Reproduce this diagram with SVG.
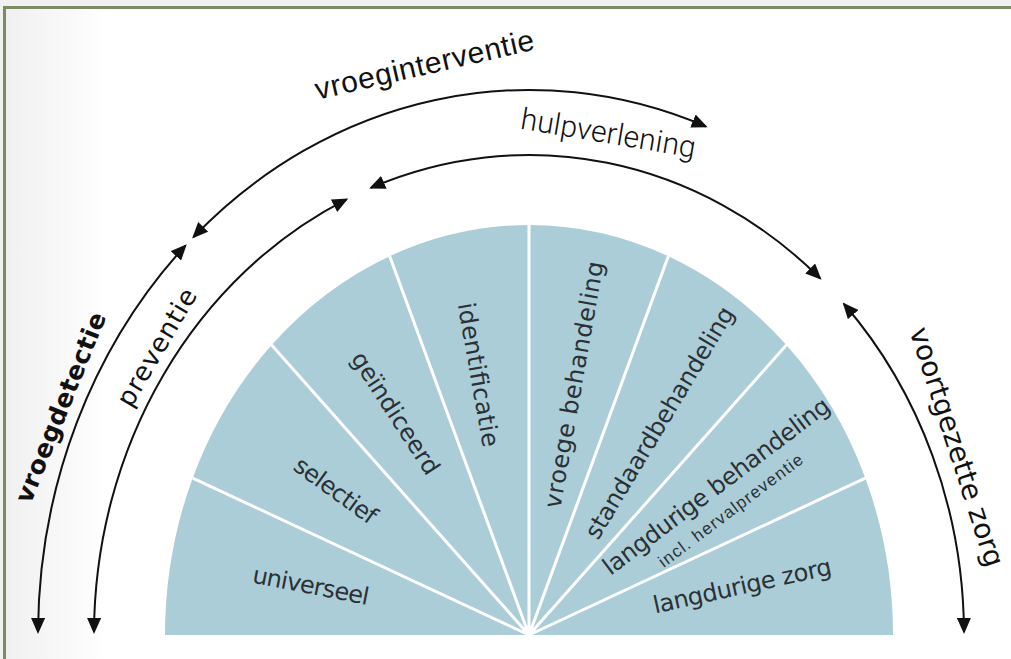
<svg xmlns="http://www.w3.org/2000/svg" width="1011" height="659" viewBox="0 0 1011 659">
  <defs>
    <linearGradient id="bgL" gradientUnits="userSpaceOnUse" x1="5" y1="0" x2="110" y2="0">
      <stop offset="0" stop-color="#f0f0f0"/>
      <stop offset="1" stop-color="#ffffff"/>
    </linearGradient>
    <marker id="ah" viewBox="0 0 16 14" refX="14" refY="7" markerWidth="16" markerHeight="14" markerUnits="userSpaceOnUse" orient="auto-start-reverse">
      <path d="M0,0 L16,7 L0,14 Z" fill="#111"/>
    </marker>
  </defs>
  <style>
    .sec{fill:#abcdd8}
    .div{stroke:#ffffff;stroke-width:3;fill:none}
    .lbl{font-family:"DejaVu Sans","Liberation Sans",sans-serif;font-size:24px;fill:#2b3034;text-anchor:middle}
    .sub{font-family:"Liberation Sans",Arial,sans-serif;font-size:17px;fill:#2b3034;text-anchor:middle}
    .arc{fill:none;stroke:#111;stroke-width:2;marker-start:url(#ah);marker-end:url(#ah)}
    .hel{font-family:"Liberation Sans",Arial,sans-serif;font-size:30px;text-anchor:middle}
    .light{font-family:Roboto,"Liberation Sans",sans-serif;font-weight:300;font-size:30px;text-anchor:middle}
    .cg{font-family:"DejaVu Sans","Liberation Sans",sans-serif;fill:#111;text-anchor:middle}
  </style>

  <!-- background and frame -->
  <rect width="1011" height="659" fill="#f1f1f1"/>
  <rect x="4" y="7" width="1007" height="652" fill="url(#bgL)"/>
  <path d="M4.5,659 V7.5 H1011" stroke="#7b8b63" stroke-width="3" fill="none"/>

  <!-- fan sectors -->
  <g id="sectors">
    <g id="s-universeel">
      <path class="sec" d="M529,635 L165,635 A364,410 0 0 1 192.71,478.10 Z"/>
      <text class="lbl" transform="translate(311,585) rotate(11)" y="8.8" textLength="118" lengthAdjust="spacing">universeel</text>
    </g>
    <g id="s-selectief">
      <path class="sec" d="M529,635 L192.71,478.10 A364,410 0 0 1 271.61,345.09 Z"/>
      <text class="lbl" transform="translate(336,490) rotate(36)" y="8.8" textLength="96" lengthAdjust="spacing">selectief</text>
    </g>
    <g id="s-geindiceerd">
      <path class="sec" d="M529,635 L271.61,345.09 A364,410 0 0 1 389.70,256.21 Z"/>
      <text class="lbl" transform="translate(394,414) rotate(57)" y="6.5" textLength="141" lengthAdjust="spacing">geïndiceerd</text>
    </g>
    <g id="s-identificatie">
      <path class="sec" d="M529,635 L389.70,256.21 A364,410 0 0 1 529,225 Z"/>
      <text class="lbl" transform="translate(479,374.5) rotate(80)" y="8.8" textLength="146" lengthAdjust="spacing">identificatie</text>
    </g>
    <g id="s-vroege-behandeling">
      <path class="sec" d="M529,635 L529,225 A364,410 0 0 1 668.30,256.21 Z"/>
      <text class="lbl" transform="translate(575.5,385) rotate(-80)" y="6.5" textLength="250" lengthAdjust="spacing">vroege behandeling</text>
    </g>
    <g id="s-standaardbehandeling">
      <path class="sec" d="M529,635 L668.30,256.21 A364,410 0 0 1 786.39,345.09 Z"/>
      <text class="lbl" transform="translate(661,423.5) rotate(-59)" y="6.5" textLength="266" lengthAdjust="spacing">standaardbehandeling</text>
    </g>
    <g id="s-langdurige-behandeling">
      <path class="sec" d="M529,635 L786.39,345.09 A364,410 0 0 1 865.29,478.10 Z"/>
      <text class="lbl" transform="translate(717,487) rotate(-37)" y="7" textLength="277" lengthAdjust="spacing">langdurige behandeling</text>
      <text class="sub" transform="translate(731,511) rotate(-37)" y="5" textLength="176" lengthAdjust="spacing">incl. hervalpreventie</text>
    </g>
    <g id="s-langdurige-zorg">
      <path class="sec" d="M529,635 L865.29,478.10 A364,410 0 0 1 893,635 Z"/>
      <text class="lbl" transform="translate(742.5,587) rotate(-12.5)" y="7" textLength="182" lengthAdjust="spacing">langdurige zorg</text>
    </g>
  </g>
  <g id="dividers">
    <path class="div" d="M529,635 L192.71,478.10 M529,635 L271.61,345.09 M529,635 L389.70,256.21 M529,635 L529,225 M529,635 L668.30,256.21 M529,635 L786.39,345.09 M529,635 L865.29,478.10"/>
  </g>

  <!-- connectors -->
  <g id="connectors">
    <path id="c-vroegdetectie" class="arc" d="M38,632 A491,545 0 0 1 185.4,245.6"/>
    <path id="c-vroeginterventie" class="arc" d="M193.5,237 A491,545 0 0 1 705.8,126.5"/>
    <path id="c-preventie" class="arc" d="M94,632 A435,480 0 0 1 346.5,199.3"/>
    <path id="c-hulpverlening" class="arc" d="M371,187.8 A435,480 0 0 1 820.1,278.3"/>
    <path id="c-voortgezette-zorg" class="arc" d="M844,304 A435,480 0 0 1 964,632"/>
  </g>

  <!-- arc labels -->
  <g id="labels">
    <g id="l-vroegdetectie">
      <text class="cg" font-size="25" font-weight="bold" transform="translate(62,408) rotate(-68)" y="7" textLength="203" lengthAdjust="spacing">vroegdetectie</text>
    </g>
    <g id="l-preventie">
      <text class="cg" font-size="26" fill="#222" transform="translate(158,348) rotate(-59.6)" y="7.5" textLength="132" lengthAdjust="spacing">preventie</text>
    </g>
    <g id="l-voortgezette-zorg">
      <text class="cg" font-size="28" transform="translate(955,447.5) rotate(72)" y="7.5" textLength="250" lengthAdjust="spacing">voortgezette zorg</text>
    </g>
    <g id="l-vroeginterventie">
      <text class="hel" fill="#111" transform="translate(425,67) rotate(-13)" y="7.7" textLength="224" lengthAdjust="spacing">vroeginterventie</text>
    </g>
    <g id="l-hulpverlening">
      <text class="light" fill="#111" transform="translate(608,135.5) rotate(9.5)" y="7.7" textLength="177" lengthAdjust="spacing">hulpverlening</text>
    </g>
  </g>
</svg>
